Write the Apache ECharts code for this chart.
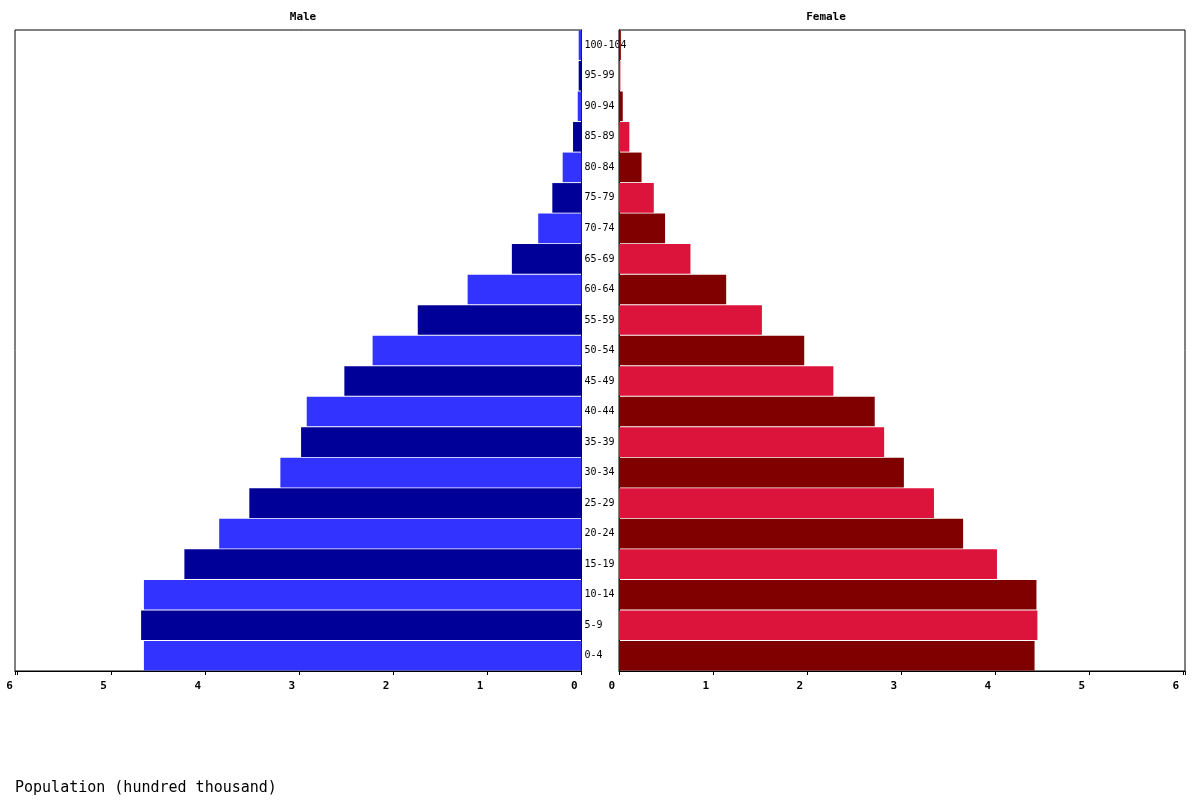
<!DOCTYPE html>
<html>
<head>
<meta charset="utf-8">
<script src="https://cdn.jsdelivr.net/npm/echarts@6/dist/echarts.min.js"></script>
<style>
  html, body { margin: 0; padding: 0; background: #fff; }
  #chart { width: 1200px; height: 800px; }
</style>
</head>
<body>
<div id="chart"></div>
<script>
// age groups, bottom to top
const ageGroups = ['0-4', '5-9', '10-14', '15-19', '20-24', '25-29', '30-34', '35-39', '40-44', '45-49',
  '50-54', '55-59', '60-64', '65-69', '70-74', '75-79', '80-84', '85-89', '90-94', '95-99', '100-104']
// population, hundred thousand
const maleValues = [4.65, 4.68, 4.65, 4.22, 3.85, 3.53, 3.20, 2.98, 2.92, 2.52,
  2.22, 1.74, 1.21, 0.74, 0.46, 0.31, 0.20, 0.09, 0.04, 0.03, 0.03]
const femaleValues = [4.42, 4.45, 4.44, 4.02, 3.66, 3.35, 3.03, 2.82, 2.72, 2.28,
  1.97, 1.52, 1.14, 0.76, 0.49, 0.37, 0.24, 0.11, 0.04, 0.015, 0.02]
const axisMax = 6.02

const MONO = '"DejaVu Sans Mono", "Liberation Mono", monospace'
const MALE_COLORS = ['#3333FF', '#000099']
const FEMALE_COLORS = ['#800000', '#DC143C']

const chart = echarts.init(document.getElementById('chart'))

function valueAxis(gridIndex, inverse) {
  return {
    type: 'value',
    gridIndex: gridIndex,
    inverse: inverse,
    min: 0,
    max: axisMax,
    interval: 1,
    splitLine: { show: false },
    axisLine: { show: true, lineStyle: { color: '#000', width: 1 } },
    axisTick: { show: true, length: 4, lineStyle: { color: '#000' } },
    axisLabel: {
      margin: 10,
      align: 'right',
      padding: [0, 4, 0, 0],
      fontFamily: MONO,
      fontSize: 11,
      fontWeight: 'bold',
      color: '#000',
      formatter: v => Number.isInteger(v) ? String(v) : ''
    }
  }
}

chart.setOption({
  animation: false,
  backgroundColor: '#fff',
  grid: [
    { left: 15, top: 30, width: 566.5, height: 641, show: true, borderColor: '#000', borderWidth: 1 },
    { left: 619, top: 30, width: 566, height: 641, show: true, borderColor: '#000', borderWidth: 1 }
  ],
  xAxis: [valueAxis(0, true), valueAxis(1, false)],
  yAxis: [
    {
      type: 'category',
      gridIndex: 0,
      position: 'right',
      data: ageGroups,
      axisLine: { show: true, lineStyle: { color: '#000' } },
      axisTick: { show: false },
      axisLabel: { align: 'left', margin: 3, padding: [3, 0, 0, 0], fontFamily: MONO, fontSize: 10, color: '#000' }
    },
    {
      type: 'category',
      gridIndex: 1,
      data: ageGroups,
      axisLine: { show: true, lineStyle: { color: '#000' } },
      axisTick: { show: false },
      axisLabel: { show: false }
    }
  ],
  series: [
    {
      name: 'Male',
      type: 'bar',
      xAxisIndex: 0,
      yAxisIndex: 0,
      data: maleValues,
      barCategoryGap: '3%',
      itemStyle: { color: p => MALE_COLORS[p.dataIndex % 2] }
    },
    {
      name: 'Female',
      type: 'bar',
      xAxisIndex: 1,
      yAxisIndex: 1,
      data: femaleValues,
      barCategoryGap: '3%',
      itemStyle: { color: p => FEMALE_COLORS[p.dataIndex % 2] }
    }
  ],
  graphic: [
    { type: 'text', x: 303, y: 17, style: { text: 'Male', font: 'bold 11px ' + MONO, fill: '#000', textAlign: 'center', textVerticalAlign: 'middle' } },
    { type: 'text', x: 826, y: 17, style: { text: 'Female', font: 'bold 11px ' + MONO, fill: '#000', textAlign: 'center', textVerticalAlign: 'middle' } },
    { type: 'text', x: 15, y: 788, style: { text: 'Population (hundred thousand)', font: '15px ' + MONO, fill: '#000', textVerticalAlign: 'middle' } }
  ]
})
</script>
</body>
</html>
